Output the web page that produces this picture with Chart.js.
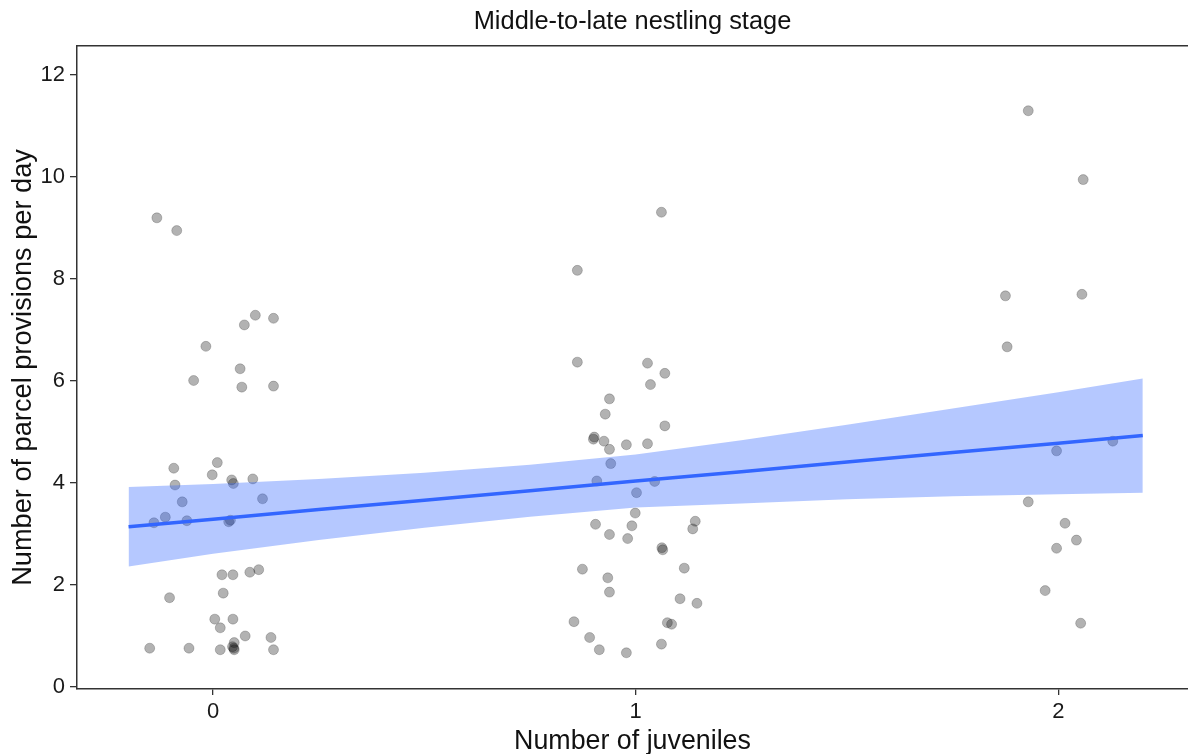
<!DOCTYPE html>
<html lang="en">
<head>
  <meta charset="UTF-8">
  <title>Middle-to-late nestling stage</title>
  <script src="https://cdn.jsdelivr.net/npm/chart.js"></script>
  <style>
    html, body {
      margin: 0;
      padding: 0;
      background: #fff;
      overflow: hidden;
    }
    #wrap {
      width: 1188px;
      height: 754px;
    }
  </style>
</head>
<body>

<div id="wrap"><canvas id="chart"></canvas></div>

<script>
// jittered x positions and provisions per day, one pair of arrays per juvenile count
const jitter0 = [-0.133, -0.086, 0.100, 0.143, 0.074, -0.017, 0.064, -0.046, 0.068, 0.143,
  -0.093, 0.010, -0.002, 0.044, 0.048, 0.094, -0.090, -0.073, 0.117, -0.140, -0.113, -0.062, 0.037, 0.041,
  0.021, 0.047, 0.087, 0.108, 0.024, -0.103, 0.004, 0.047, 0.017, 0.076, 0.137, 0.050, -0.150, -0.057,
  0.017, 0.046, 0.050, 0.143, 0.049];
const provisions0 = [9.20, 8.95, 7.29, 7.23, 7.10, 6.68, 6.24, 6.01, 5.88, 5.90,
  4.29, 4.40, 4.16, 4.06, 3.99, 4.08, 3.96, 3.63, 3.69, 3.22, 3.33, 3.26, 3.24, 3.27,
  2.20, 2.20, 2.25, 2.30, 1.84, 1.75, 1.33, 1.33, 1.16, 1.00, 0.97, 0.87, 0.76, 0.76,
  0.73, 0.79, 0.73, 0.73, 0.76];

const jitter1 = [1.061, 0.862, 0.862, 1.028, 1.069, 1.035, 0.938, 0.928, 1.069, 0.902, 0.900,
  0.925, 0.938, 0.978, 1.028, 0.941, 0.908, 1.045, 1.002, 0.999, 0.905, 0.991, 1.141, 1.135,
  0.938, 0.981, 1.062, 1.064, 0.874, 1.115, 0.934, 0.938, 1.105, 1.145, 0.854, 1.075, 1.085,
  0.891, 0.914, 0.978, 1.061];
const provisions1 = [9.31, 8.17, 6.37, 6.35, 6.15, 5.93, 5.65, 5.35, 5.12, 4.90, 4.86,
  4.82, 4.66, 4.75, 4.77, 4.38, 4.04, 4.03, 3.81, 3.41, 3.19, 3.16, 3.25, 3.10,
  2.99, 2.91, 2.73, 2.69, 2.31, 2.33, 2.14, 1.86, 1.73, 1.64, 1.28, 1.26, 1.23,
  0.97, 0.73, 0.67, 0.84];

const jitter2 = [1.929, 2.059, 1.875, 2.056, 1.879, 1.996, 2.129, 1.929, 2.016, 2.043, 1.996, 1.969, 2.053];
const provisions2 = [11.30, 9.95, 7.67, 7.70, 6.67, 4.63, 4.82, 3.63, 3.21, 2.88, 2.72, 1.89, 1.25];

// linear fit and its confidence band
const fitX = [-0.2, 0, 0.25, 0.5, 0.75, 1, 1.25, 1.5, 1.75, 2, 2.2];
const fitY = [3.14, 3.29, 3.48, 3.66, 3.85, 4.04, 4.22, 4.41, 4.60, 4.78, 4.93];
const fitLo = [2.36, 2.61, 2.88, 3.12, 3.34, 3.52, 3.60, 3.68, 3.74, 3.78, 3.81];
const fitHi = [3.92, 3.98, 4.08, 4.20, 4.36, 4.56, 4.84, 5.14, 5.46, 5.78, 6.05];

const xTicks = [0, 1, 2];
const yTicks = [0, 2, 4, 6, 8, 10, 12];

const pairs = (xs, ys) => xs.map((x, i) => ({x: x, y: ys[i]}));

const points = [].concat(
  pairs(jitter0, provisions0),
  pairs(jitter1, provisions1),
  pairs(jitter2, provisions2)
);

const fontFam = '"Liberation Sans", Arial, sans-serif';
const axisCol = '#333333';
const textCol = '#1a1a1a';

// keep the horizontal axes from reserving side padding
function fixX(h) {
  return s => {
    s.height = h;
    s.paddingLeft = 0;
    s.paddingRight = 0;
  };
}

new Chart(document.getElementById('chart'), {
  type: 'scatter',
  data: {
    datasets: [
      {
        label: 'fit',
        type: 'line',
        data: pairs(fitX, fitY),
        borderColor: '#3366FF',
        borderWidth: 3.5,
        pointRadius: 0,
        fill: false,
        order: 1
      },
      {
        label: 'lower',
        type: 'line',
        data: pairs(fitX, fitLo),
        borderWidth: 0,
        borderColor: 'rgba(0,0,0,0)',
        pointRadius: 0,
        fill: false,
        order: 2
      },
      {
        label: 'upper',
        type: 'line',
        data: pairs(fitX, fitHi),
        borderWidth: 0,
        borderColor: 'rgba(0,0,0,0)',
        backgroundColor: 'rgba(51,102,255,0.36)',
        pointRadius: 0,
        fill: '-1',
        order: 2
      },
      {
        label: 'nests',
        data: points,
        backgroundColor: 'rgba(0,0,0,0.3)',
        borderColor: 'rgba(0,0,0,0.2)',
        borderWidth: 1,
        pointRadius: 5,
        order: 3
      }
    ]
  },
  options: {
    responsive: true,
    maintainAspectRatio: false,
    animation: false,
    layout: { padding: 0, autoPadding: false },
    plugins: {
      legend: { display: false },
      tooltip: { enabled: false }
    },
    scales: {
      x: {
        type: 'linear',
        position: 'bottom',
        min: -0.322,
        max: 2.307,
        afterBuildTicks: s => { s.ticks = xTicks.map(v => ({value: v})); },
        afterFit: fixX(65),
        grid: { display: true, drawOnChartArea: false, drawTicks: true, tickLength: 6, color: axisCol, lineWidth: 1.3 },
        border: { display: true, color: axisCol, width: 1.5 },
        ticks: { color: textCol, font: { family: fontFam, size: 22 }, padding: 4, maxRotation: 0 },
        title: {
          display: true,
          text: 'Number of juveniles',
          color: '#111',
          font: { family: fontFam, size: 26.8, lineHeight: 1 },
          padding: { top: 0, bottom: -1 }
        }
      },
      xTop: {
        type: 'linear',
        position: 'top',
        min: -0.322,
        max: 2.307,
        afterFit: fixX(46),
        grid: { display: false },
        border: { display: true, color: axisCol, width: 1.5 },
        ticks: { display: false },
        title: {
          display: true,
          text: 'Middle-to-late nestling stage',
          color: '#111',
          font: { family: fontFam, size: 25.4, lineHeight: 1.2 },
          padding: { top: 7, bottom: 0 }
        }
      },
      y: {
        type: 'linear',
        position: 'left',
        min: -0.04,
        max: 12.57,
        afterBuildTicks: s => { s.ticks = yTicks.map(v => ({value: v})); },
        afterFit: s => { s.width = 77; },
        grid: { display: true, drawOnChartArea: false, drawTicks: true, tickLength: 7, color: axisCol, lineWidth: 1.3 },
        border: { display: true, color: axisCol, width: 1.5 },
        ticks: { color: textCol, font: { family: fontFam, size: 22 }, padding: 5 },
        title: {
          display: true,
          text: 'Number of parcel provisions per day',
          color: '#111',
          font: { family: fontFam, size: 27.2, lineHeight: 1 },
          padding: { top: 10, bottom: 0 }
        }
      }
    }
  }
});
</script>

</body>
</html>
